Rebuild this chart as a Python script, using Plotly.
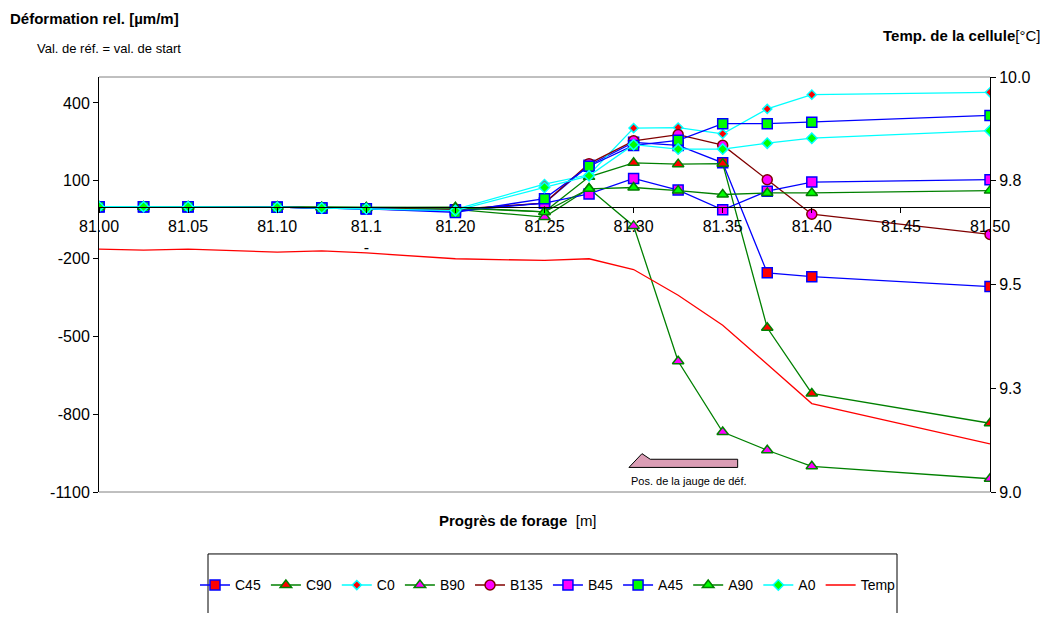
import plotly.graph_objects as go

# ---- data ----
depth = [81.00, 81.025, 81.05, 81.10, 81.125, 81.15, 81.20, 81.25, 81.275,
         81.30, 81.325, 81.35, 81.375, 81.40, 81.50]

C45 = [0, 0, 0, -2, -5, -8, -12, 14, 160, 248, 236, 169, -255, -270, -308]
C90 = [0, 0, 0, 0, -2, -3, -2, -20, 115, 169, 164, 166, -467, -720, -835]
C0 = [0, 0, 0, -2, -5, -8, -10, 87, 123, 303, 305, 281, 377, 432, 441]
B90 = [0, 0, 0, -1, -4, -6, -10, -40, 70, -74, -596, -869, -939, -1001, -1049]
B135 = [0, 0, 0, -2, -5, -7, -10, 14, 166, 254, 278, 237, 104, -29, -107]
B45 = [0, 0, 0, -2, -5, -8, -17, 14, 49, 109, 64, -12, 60, 95, 104]
A45 = [0, 0, 0, -2, -5, -8, -22, 31, 156, 236, 256, 320, 320, 326, 352]
A90 = [0, 0, 0, 0, -2, -3, -5, -20, 69, 74, 62, 47, 53, 53, 62]
A0 = [0, 0, 0, -2, -5, -8, -15, 74, 119, 239, 222, 222, 245, 264, 293]
Temp = [9.585, 9.583, 9.585, 9.578, 9.581, 9.576, 9.562, 9.558, 9.562,
        9.536, 9.474, 9.402, 9.308, 9.213, 9.116]

x_tickvals = [81.00, 81.05, 81.10, 81.15, 81.20, 81.25, 81.30, 81.35, 81.40, 81.45, 81.50]
x_ticktext = ["81.00", "81.05", "81.10", "81.1<br>-", "81.20", "81.25", "81.30",
              "81.35", "81.40", "81.45", "81.50"]
y_tickvals = [-1100, -800, -500, -200, 100, 400]
y_ticktext = ["-1100", "-800", "-500", "-200", "100", "400"]
y2_tickvals = [9.0, 9.25, 9.5, 9.75, 10.0]
y2_ticktext = ["9.0", "9.3", "9.5", "9.8", "10.0"]

FONT = "Arial, Liberation Sans, sans-serif"
BLUE, GREEN, CYAN, DRED, RED = "#0000FF", "#008000", "#00FFFF", "#800000", "#FF0000"
LIME, MAG = "#00FF00", "#FF00FF"

series = [
    ("C45", C45, BLUE, "square", RED, BLUE, 10),
    ("C90", C90, GREEN, "triangle-up", RED, GREEN, 10),
    ("C0", C0, CYAN, "diamond", RED, CYAN, 7),
    ("B90", B90, GREEN, "triangle-up", MAG, GREEN, 10),
    ("B135", B135, DRED, "circle", MAG, DRED, 10),
    ("B45", B45, BLUE, "square", MAG, BLUE, 10),
    ("A45", A45, BLUE, "square", LIME, BLUE, 10),
    ("A90", A90, GREEN, "triangle-up", LIME, GREEN, 10),
    ("A0", A0, CYAN, "diamond", LIME, CYAN, 8),
]

fig = go.Figure()
for name, vals, lc, sym, fc, bc, sz in series:
    fig.add_trace(go.Scatter(
        x=depth, y=vals, name=name, mode="lines+markers",
        line=dict(color=lc, width=1.3),
        marker=dict(symbol=sym, color=fc, size=sz, line=dict(color=bc, width=1.5)),
        yaxis="y"))
fig.add_trace(go.Scatter(x=depth, y=Temp, name="Temp", mode="lines",
                         line=dict(color=RED, width=1.3), yaxis="y2"))

# page body has an 8px margin: design in reference pixel coords, shift by OFF
OFF = 8
W, H = 1052 - 2 * OFF, 621 - 2 * OFF
PL, PR, PT, PB = 99, 990, 77, 499          # plot area in reference pixels
L, T = PL - OFF, PT - OFF
R, B = W - (PR - OFF), H - (PB - OFF)
pw, ph = PR - PL, PB - PT


def px(x):
    return (x - PL) / pw


def py(y):
    return (PB - y) / ph


fig.update_layout(
    width=W, height=H,
    margin=dict(l=L, r=R, t=T, b=B),
    paper_bgcolor="white", plot_bgcolor="white",
    font=dict(family=FONT, size=16, color="black"),
    showlegend=True,
    legend=dict(orientation="h", x=px(548), y=py(594), xanchor="center", yanchor="middle",
                font=dict(size=14, family=FONT), bgcolor="rgba(0,0,0,0)",
                itemwidth=30, tracegroupgap=0),
    xaxis=dict(range=[81.0, 81.5], tickvals=x_tickvals, ticktext=x_ticktext,
               anchor="free", position=1100 / 1600, showline=True, linecolor="black",
               linewidth=1, ticks="outside", ticklen=5, tickcolor="black",
               showgrid=False, zeroline=False, tickfont=dict(size=16)),
    yaxis=dict(range=[-1100, 500], tickvals=y_tickvals, ticktext=y_ticktext, showline=True,
               linecolor="black", linewidth=1, ticks="outside", ticklen=5,
               tickcolor="black", showgrid=False, zeroline=False,
               tickfont=dict(size=16)),
    yaxis2=dict(range=[9.0, 10.0], tickvals=y2_tickvals, ticktext=y2_ticktext,
                overlaying="y", side="right", showline=True, linecolor="black",
                linewidth=1, ticks="outside", ticklen=5, tickcolor="black",
                showgrid=False, zeroline=False, tickfont=dict(size=16)),
)

shapes = [
    dict(type="line", xref="paper", yref="paper", x0=0, x1=1, y0=1, y1=1,
         line=dict(color="#808080", width=1)),
    dict(type="line", xref="paper", yref="paper", x0=0, x1=1, y0=0, y1=0,
         line=dict(color="#808080", width=1)),
    # legend box
    dict(type="rect", xref="paper", yref="paper", x0=px(208), x1=px(897),
         y0=py(640), y1=py(562), line=dict(color="black", width=1), fillcolor="rgba(0,0,0,0)"),
]
# strain gauge position arrow
pts = [(629, 474), (642, 460), (650.3, 465.7), (737.7, 465.7), (737.7, 474)]
path = "M " + " L ".join(f"{px(a):.4f},{py(b):.4f}" for a, b in pts) + " Z"
shapes.append(dict(type="path", xref="paper", yref="paper", path=path,
                   fillcolor="#DB9DB5", line=dict(color="black", width=1)))
fig.update_layout(shapes=shapes)

ann = [
    dict(text="<b>Déformation rel. [µm/m]</b>", x=px(8), y=py(18), xanchor="left",
         yanchor="middle", font=dict(size=15)),
    dict(text="Val. de réf. = val. de start", x=px(35), y=py(48), xanchor="left",
         yanchor="middle", font=dict(size=13)),
    dict(text="<b>Temp. de la cellule</b>[°C]", x=px(1042), y=py(35), xanchor="right",
         yanchor="middle", font=dict(size=15)),
    dict(text="<b>Progrès de forage</b>  [m]", x=px(518), y=py(528), xanchor="center",
         yanchor="middle", font=dict(size=15)),
    dict(text="Pos. de la jauge de déf.", x=px(689), y=py(488), xanchor="center",
         yanchor="middle", font=dict(size=11)),
]
for a in ann:
    a.update(xref="paper", yref="paper", showarrow=False)
fig.update_layout(annotations=ann)

fig.write_html("out.html")
